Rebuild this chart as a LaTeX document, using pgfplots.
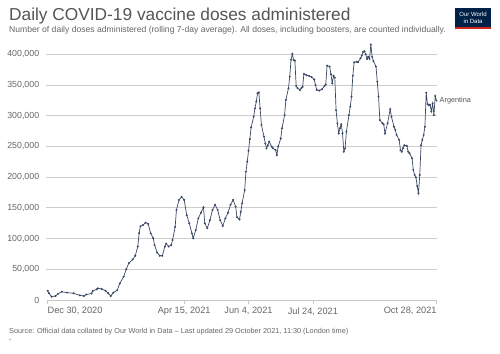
\documentclass[border=0pt]{standalone}
\usepackage{pgfplots}
\pgfplotsset{compat=1.18}
\usepackage{pgfplotstable}
\usepackage{fontspec}
\setmainfont{Liberation Sans}
\definecolor{owidline}{RGB}{58,72,100}
\definecolor{txtgrey}{RGB}{85,85,85}
\definecolor{subgrey}{RGB}{102,102,102}
\definecolor{gridgrey}{RGB}{205,205,205}
\definecolor{axisgrey}{RGB}{200,200,200}
\definecolor{owidnavy}{RGB}{0,33,71}
\definecolor{owidred}{RGB}{206,38,30}
\pgfplotstableread{
day val
0 15000
1 11000
3 5400
6 6500
8 10000
11 13500
15 12000
20 11000
25 7600
28 6500
30 9000
34 10500
35 14700
38 17400
39 19000
42 18000
45 15000
47 11000
49 6500
51 12000
54 16000
56 27000
59 38000
61 50000
63 60000
66 66000
68 72000
70 87000
71 109000
72 120000
74 122000
76 126000
78 124000
80 108600
82 100500
83 89600
85 77000
87 72000
89 72000
91 87000
92 92000
94 87000
96 89600
97 97700
99 119000
100 146600
102 163000
104 168000
106 163000
108 138000
110 125000
112 108600
113 100500
115 114000
117 133000
119 142000
121 151000
122 125000
124 117000
126 130000
128 146600
130 155000
132 146600
134 130000
136 120500
138 133000
140 142000
142 155000
144 163000
146 152000
147 134700
149 131000
150 143800
151 157500
153 179000
154 209000
155 225000
156 243000
157 262000
158 281000
160 298500
161 312000
162 323000
163 336600
164 338000
165 312000
166 285000
168 266000
169 255000
170 247000
171 252000
172 258000
174 249700
175 247000
177 244000
178 236000
179 249700
181 263000
182 279600
184 301000
185 325700
187 344800
188 363700
189 391000
190 400700
191 391000
192 389800
193 348500
194 345000
196 342000
197 345000
198 347000
199 368000
201 366000
203 364800
205 363000
207 359000
208 350000
209 342000
211 341000
213 343000
215 348500
216 351000
217 381600
219 380000
220 367600
221 353000
222 365000
223 362000
224 309000
225 287800
226 271500
227 279600
228 286000
229 271500
230 241500
231 247000
232 274000
234 301000
235 314800
236 331000
237 365000
238 387000
240 388000
241 387000
243 393600
244 398000
245 404000
246 405000
247 400000
248 392500
249 396000
250 392500
251 416000
252 396000
253 389000
255 380000
256 355500
257 331000
258 293000
260 287800
261 286000
262 271000
264 288000
266 310600
267 298500
269 282000
270 277000
271 268700
273 260600
274 244000
275 241500
276 247000
277 252000
279 251000
280 241500
281 239000
283 230800
284 211700
285 203600
286 199800
287 185700
288 173800
289 203600
290 252000
291 260600
292 268700
293 282000
294 337600
295 319000
296 317000
297 318000
298 307000
299 320000
300 301000
301 332000
302 324600
}\argdata
\begin{document}
\begin{tikzpicture}[x=1pt,y=1pt]
\useasboundingbox (0,0) rectangle (500,353);
\fill[white] (0,0) rectangle (500,353);
\begin{axis}[
  at={(47.7pt,53pt)}, anchor=south west,
  scale only axis, width=388.8pt, height=255.5pt,
  xmin=0, xmax=302, ymin=0, ymax=416000,
  scaled y ticks=false,
  axis x line*=bottom, axis y line*=left,
  x axis line style={draw=axisgrey, line width=0.8pt, -},
  y axis line style={draw=none},
  xtick={0,106,156,206,302},
  xticklabels={{\makebox[0pt][l]{Dec 30, 2020}},{Apr 15, 2021},{Jun 4, 2021},{Jul 24, 2021},{\makebox[0pt][r]{Oct 28, 2021}}},
  xtick style={draw=axisgrey, line width=0.6pt},
  ytick style={draw=none},
  major tick length=4pt, tick align=outside,
  xticklabel style={font=\fontsize{9.2}{10}\selectfont, text=subgrey},
  ytick={0,50000,100000,150000,200000,250000,300000,350000,400000},
  yticklabels={0,{50,000},{100,000},{150,000},{200,000},{250,000},{300,000},{350,000},{400,000}},
  yticklabel style={font=\fontsize{8.8}{10}\selectfont, text=subgrey, anchor=east, xshift=-1pt},
  clip=false,
]
\addplot[color=gridgrey, line width=0.8pt, mark=none, forget plot] coordinates {(-1.5,50000) (302,50000)};
\addplot[color=gridgrey, line width=0.8pt, mark=none, forget plot] coordinates {(-1.5,100000) (302,100000)};
\addplot[color=gridgrey, line width=0.8pt, mark=none, forget plot] coordinates {(-1.5,150000) (302,150000)};
\addplot[color=gridgrey, line width=0.8pt, mark=none, forget plot] coordinates {(-1.5,200000) (302,200000)};
\addplot[color=gridgrey, line width=0.8pt, mark=none, forget plot] coordinates {(-1.5,250000) (302,250000)};
\addplot[color=gridgrey, line width=0.8pt, mark=none, forget plot] coordinates {(-1.5,300000) (302,300000)};
\addplot[color=gridgrey, line width=0.8pt, mark=none, forget plot] coordinates {(-1.5,350000) (302,350000)};
\addplot[color=gridgrey, line width=0.8pt, mark=none, forget plot] coordinates {(-1.5,400000) (302,400000)};
\addplot[owidline, line width=0.7pt, mark=*, mark size=0.6pt, mark options={fill=owidline, draw=owidline}] table[x=day, y=val] {\argdata};
\node[anchor=west, font=\fontsize{7.3}{8}\selectfont, text=txtgrey, inner sep=0pt] at ([xshift=3pt]axis cs:302,324600) {Argentina};
\end{axis}
\node[anchor=base west, inner sep=0pt, font=\fontsize{17.3}{19}\selectfont, text=txtgrey] at (9,332.3) {Daily COVID-19 vaccine doses administered};
\node[anchor=base west, inner sep=0pt, font=\fontsize{8.6}{10}\selectfont, text=subgrey] at (9,320.7) {Number of daily doses administered (rolling 7-day average). All doses, including boosters, are counted individually.};
\node[anchor=base west, inner sep=0pt, font=\fontsize{7.3}{8}\selectfont, text=subgrey] at (9,19.5) {Source: Official data collated by Our World in Data -- Last updated 29 October 2021, 11:30 (London time)};
\node[anchor=base west, inner sep=0pt, font=\fontsize{5}{6}\selectfont, text=subgrey] at (9,11) {*};
\fill[owidnavy] (455,324) rectangle (491,345);
\fill[owidred] (455,324) rectangle (491,325.8);
\node[align=center, inner sep=0pt, text=white, font=\fontsize{6}{6.5}\selectfont] at (473,335.3) {Our World\\in Data};
\end{tikzpicture}
\end{document}
